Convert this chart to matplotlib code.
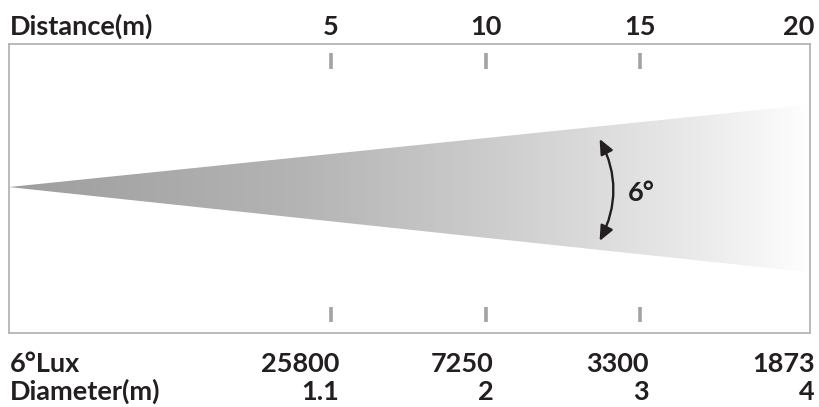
import numpy as np
import matplotlib.pyplot as plt
from matplotlib.patches import Polygon, FancyArrowPatch
from matplotlib.colors import LinearSegmentedColormap

plt.rcParams['font.family'] = ['Lato', 'DejaVu Sans']
plt.rcParams['font.weight'] = 'bold'

# Data
distances = [5, 10, 15, 20]
lux = ["25800", "7250", "3300", "1873"]
diameters = ["1.1", "2", "3", "4"]
beam_angle = 6

TXT = "#231f20"
FRAME = "#b4b4b4"
TICK = "#a3a3a3"

fig = plt.figure(figsize=(8.19, 4.07), dpi=100)
fig.patch.set_facecolor("white")

# box axes (pixels: x 9..810, y 44..333)
ax = fig.add_axes([9 / 819, (407 - 333) / 407, 801 / 819, 289 / 407])
x0, x1 = -5.42, 20.5
ax.set_xlim(x0, x1)
ax.set_ylim(-1.0, 1.0)
ax.set_xticks([])
ax.set_yticks([])
for s in ax.spines.values():
    s.set_color(FRAME)
    s.set_linewidth(1.3)

# beam with gradient
half = 0.58
beam = Polygon([[x0, 0.01], [x1, half], [x1, -half]], closed=True,
               facecolor="none", edgecolor="none")
ax.add_patch(beam)
cmap = LinearSegmentedColormap.from_list(
    "beam",
    [(0.0, "#9e9e9e"), (0.36, "#b4b4b4"), (0.61, "#cdcdcd"),
     (0.86, "#eaeaea"), (0.96, "#f8f8f8"), (1.0, "#ffffff")])
grad = np.linspace(0, 1, 512).reshape(1, -1)
im = ax.imshow(grad, cmap=cmap, extent=[x0, x1, -half, half],
               aspect="auto", zorder=1, interpolation="bilinear")
im.set_clip_path(beam)

# tick marks
for d in distances[:-1]:
    ax.plot([d, d], [0.935, 0.83], color=TICK, lw=2.6, solid_capstyle="butt")
    ax.plot([d, d], [-0.82, -0.925], color=TICK, lw=2.6, solid_capstyle="butt")

# beam angle arrow
ax_x = 13.65
arr = FancyArrowPatch((ax_x, 0.36), (ax_x, -0.38),
                      connectionstyle="arc3,rad=-0.27",
                      arrowstyle="<|-|>,head_length=9,head_width=4",
                      color=TXT, lw=1.7, mutation_scale=1, zorder=3)
ax.add_patch(arr)

fs = 19.5
ax.text(14.6, -0.03, f"{beam_angle}°", color=TXT, fontsize=fs,
        ha="left", va="center")

# labels
xt = ax.get_xaxis_transform()
ax.text(x0 + 0.02, 1.031, "Distance(m)", transform=xt, color=TXT, fontsize=fs,
        ha="left", va="baseline", clip_on=False)
for d in distances[:-1]:
    ax.text(d, 1.031, str(d), transform=xt, color=TXT, fontsize=fs,
            ha="center", va="baseline", clip_on=False)
ax.text(x1 + 0.15, 1.031, str(distances[-1]), transform=xt, color=TXT,
        fontsize=fs, ha="right", va="baseline", clip_on=False)

ax.text(x0 + 0.02, -0.135, f"{beam_angle}°Lux", transform=xt, color=TXT,
        fontsize=fs, ha="left", va="baseline", clip_on=False)
ax.text(x0 + 0.02, -0.232, "Diameter(m)", transform=xt, color=TXT,
        fontsize=fs, ha="left", va="baseline", clip_on=False)
for i, (lx, dm) in enumerate(zip(lux, diameters)):
    xr = distances[i] + 0.27 if i < len(lux) - 1 else x1 + 0.15
    ax.text(xr, -0.135, lx, transform=xt, color=TXT, fontsize=fs,
            ha="right", va="baseline", clip_on=False)
    ax.text(xr, -0.232, dm, transform=xt, color=TXT, fontsize=fs,
            ha="right", va="baseline", clip_on=False)

fig.savefig("out.png", dpi=100)
